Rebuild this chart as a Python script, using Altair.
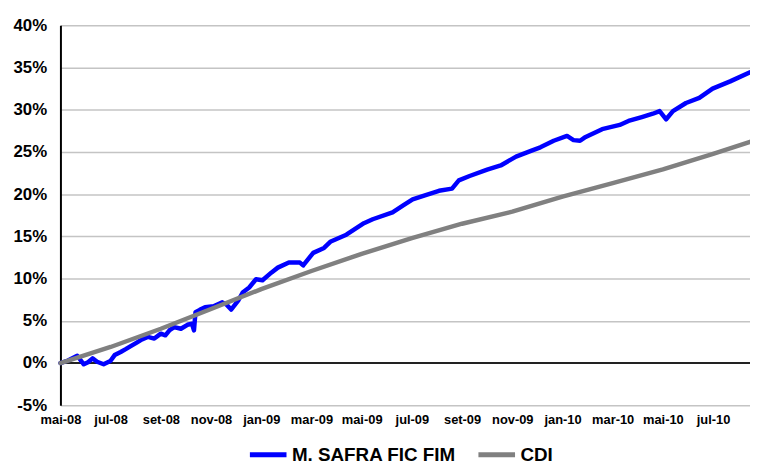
import json
import altair as alt
import pandas as pd

# x positions are months elapsed since 1 May 2008
month_labels = ["mai-08", "jul-08", "set-08", "nov-08", "jan-09", "mar-09", "mai-09",
                "jul-09", "set-09", "nov-09", "jan-10", "mar-10", "mai-10", "jul-10"]
label_months = [0, 2, 4, 6, 8, 10, 12, 14, 16, 18, 20, 22, 24, 26]

safra_m = [0.0, 0.3, 0.67, 0.93, 1.1, 1.28, 1.46, 1.72, 1.99, 2.16, 2.4, 2.6, 2.8, 3.04, 3.25,
           3.48, 3.74, 4.0, 4.18, 4.35, 4.53, 4.8, 5.06, 5.24, 5.32, 5.38, 5.55, 5.76, 6.1,
           6.45, 6.63, 6.8, 7.08, 7.26, 7.52, 7.79, 8.05, 8.4, 8.66, 9.1, 9.54, 9.67, 10.07,
           10.5, 10.77, 11.39, 12.09, 12.44, 13.23, 13.67, 14.03, 14.55, 15.08, 15.6, 15.87,
           16.3, 17.0, 17.54, 18.15, 18.77, 19.12, 19.65, 20.18, 20.44, 20.7, 20.88, 21.58,
           22.28, 22.63, 23.16, 23.6, 23.87, 24.13, 24.4, 24.92, 25.45, 25.98, 26.68, 27.47]
safra_v = [0.0, 0.3, 0.86, -0.15, 0.1, 0.55, 0.15, -0.15, 0.23, 0.94, 1.3, 1.64, 2.0, 2.42, 2.8,
           3.09, 2.9, 3.48, 3.28, 3.9, 4.26, 4.06, 4.53, 4.65, 3.87, 6.02, 6.3, 6.6, 6.72,
           7.19, 6.88, 6.33, 7.38, 8.36, 8.95, 9.92, 9.8, 10.7, 11.3, 11.9, 11.9, 11.56, 13.05,
           13.63, 14.4, 15.2, 16.56, 17.03, 17.85, 18.7, 19.38, 19.88, 20.4, 20.66, 21.64,
           22.15, 22.9, 23.4, 24.45, 25.16, 25.55, 26.33, 26.9, 26.4, 26.33, 26.7, 27.7,
           28.2, 28.67, 29.14, 29.53, 29.84, 28.87, 29.84, 30.8, 31.4, 32.5, 33.36, 34.45]

cdi_m = [0, 2, 4, 6, 8, 10, 12, 14, 16, 18, 20, 22, 24, 26, 27.47]
cdi_v = [0.0, 1.9, 4.06, 6.4, 8.75, 10.9, 12.93, 14.8, 16.5, 17.93, 19.7, 21.3, 22.93, 24.77, 26.2]

series_names = ["M. SAFRA FIC FIM", "CDI"]
series_colors = ["#0000ff", "#808080"]

y_ticks = [-5, 0, 5, 10, 15, 20, 25, 30, 35, 40]

df = pd.concat([
    pd.DataFrame({"m": safra_m, "v": safra_v, "s": series_names[0]}),
    pd.DataFrame({"m": cdi_m, "v": cdi_v, "s": series_names[1]}),
], ignore_index=True)

FONT = "Arial, Liberation Sans, sans-serif"
label_expr = json.dumps(month_labels) + "[round(datum.value / 2)]"

x_enc = alt.X("m:Q",
              scale=alt.Scale(domain=[0, 27.47], nice=False, zero=False),
              axis=alt.Axis(values=label_months, labelExpr=label_expr, grid=False,
                            ticks=False, domain=False, title=None,
                            labelOverlap=False, labelFlush=False, labelBound=False,
                            labelFont=FONT, labelFontSize=13, labelFontWeight="bold",
                            labelColor="black", labelPadding=8, labelAngle=0))
y_enc = alt.Y("v:Q",
              scale=alt.Scale(domain=[-5, 40], nice=False, zero=False),
              axis=alt.Axis(values=y_ticks, labelExpr="datum.value + '%'", title=None,
                            grid=True, gridColor="#c4c4c4", gridWidth=1.5,
                            ticks=False, domain=True, domainColor="black", domainWidth=2,
                            labelOverlap=False, labelFlush=False,
                            labelFont=FONT, labelFontSize=17, labelFontWeight="bold",
                            labelColor="black", labelPadding=14))

zero = alt.Chart(pd.DataFrame({"v": [0]})).mark_rule(color="#222222", strokeWidth=2).encode(
    y=alt.Y("v:Q"))

lines = alt.Chart(df).mark_line(strokeWidth=4.5, strokeJoin="round", strokeCap="round").encode(
    x=x_enc,
    y=y_enc,
    color=alt.Color("s:N",
                    scale=alt.Scale(domain=series_names, range=series_colors),
                    sort=series_names,
                    legend=alt.Legend(orient="none", legendX=189, legendY=413,
                                      direction="horizontal", title=None,
                                      symbolType="stroke", symbolStrokeWidth=5,
                                      symbolSize=1369, labelFont=FONT, labelFontSize=19,
                                      labelFontWeight="bold", labelColor="black",
                                      labelOffset=3, columnPadding=12, padding=0,
                                      labelLimit=400)),
    detail="s:N",
)

chart = alt.layer(zero, lines).properties(
    width=697, height=384,
    autosize=alt.AutoSizeParams(type="none"),
    padding={"left": 53, "top": 15, "right": 0, "bottom": 68},
    background="white",
).configure_view(stroke=None)

chart.save("out.html", embed_options={"renderer": "svg", "actions": False})
